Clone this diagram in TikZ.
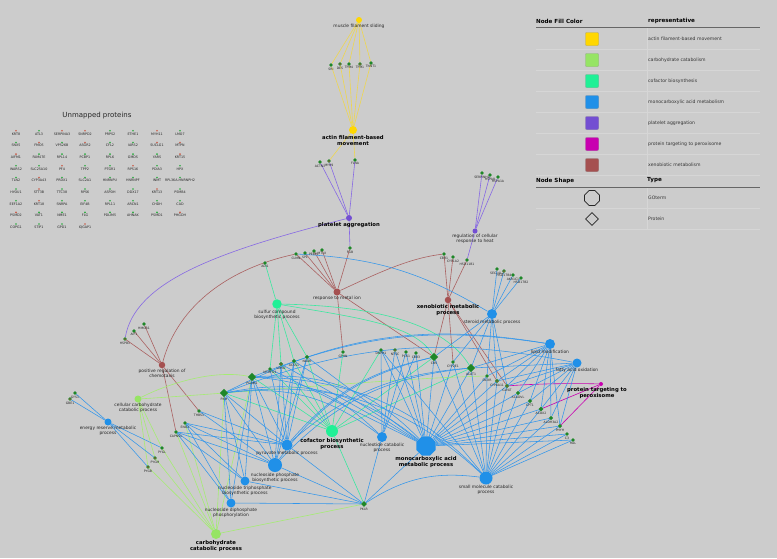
\documentclass[tikz,border=0pt]{standalone}
\usepackage{fontspec}
\setmainfont{DejaVu Sans}
\usetikzlibrary{shapes.geometric,backgrounds}
\definecolor{bg}{RGB}{204,204,204}
\definecolor{cyel}{RGB}{255,215,0}
\definecolor{eyel}{RGB}{238,214,80}
\definecolor{cgrn}{RGB}{150,228,100}
\definecolor{egrn}{RGB}{165,236,115}
\definecolor{ctea}{RGB}{32,240,150}
\definecolor{etea}{RGB}{60,232,160}
\definecolor{cblu}{RGB}{32,144,232}
\definecolor{eblu}{RGB}{50,150,235}
\definecolor{cpur}{RGB}{115,78,210}
\definecolor{epur}{RGB}{135,105,228}
\definecolor{cmag}{RGB}{200,0,176}
\definecolor{cbrn}{RGB}{165,80,80}
\definecolor{ebrn}{RGB}{170,98,98}
\definecolor{cprot}{RGB}{30,135,40}
\definecolor{cred}{RGB}{200,75,60}
\definecolor{ug}{RGB}{40,170,60}
\definecolor{ur}{RGB}{200,90,70}
\definecolor{gridl}{RGB}{214,214,214}
\tikzset{
 go/.style={circle,inner sep=0pt,draw=none},
 pr/.style={diamond,inner sep=0pt,minimum size=3.8pt,fill=cprot},
 bigpr/.style={diamond,inner sep=0pt,minimum size=8.5pt,fill=cprot},
 rc/.style={path picture={\fill[cred] (path picture bounding box.center) circle (0.75pt);}},
 lab/.style={font=\fontsize{4.4}{4.9}\selectfont,align=center,text=black!85,inner sep=0.6pt},
 blab/.style={font=\fontsize{5.3}{6.1}\selectfont\bfseries,align=center,text=black,inner sep=0.6pt},
 plab/.style={font=\fontsize{3.1}{3.4}\selectfont,text=black!85,inner sep=0.4pt},
 ulab/.style={font=\fontsize{3.3}{3.6}\selectfont,text=black!85,inner sep=0pt},
 udot/.style={circle,inner sep=0pt,minimum size=1.8pt},
 ey/.style={draw=eyel,line width=0.6pt},
 ep/.style={draw=epur,line width=0.6pt},
 eb/.style={draw=ebrn,line width=0.6pt},
 et/.style={draw=etea,line width=0.6pt},
 eg/.style={draw=egrn,line width=0.6pt},
 ebl/.style={draw=eblu,line width=0.55pt},
 em/.style={draw=cmag,line width=0.6pt},
 hdr/.style={font=\fontsize{5.6}{6.5}\selectfont\bfseries,anchor=west,inner sep=0pt},
 ltx/.style={font=\fontsize{4.6}{5.4}\selectfont,text=black!80,anchor=west,inner sep=0pt},
 sw/.style={rectangle,rounded corners=1.2pt,minimum size=13.5pt,inner sep=0pt,draw=black!35,line width=0.4pt}
}
\begin{document}
\begin{tikzpicture}[x=1pt,y=-1pt]
\useasboundingbox (0,0) rectangle (777,558);

% ---------------- GO term nodes ----------------
\node[go,fill=cyel,minimum size=6pt,label={[lab]below:muscle filament sliding}] (msl) at (359,20) {};
\node[go,fill=cyel,minimum size=8pt,label={[blab]below:actin filament-based\\movement}] (afm) at (353,130) {};
\node[go,fill=cpur,minimum size=6pt,label={[blab]below:platelet aggregation}] (pla) at (349,218) {};
\node[go,fill=cpur,minimum size=5pt,label={[lab]below:regulation of cellular\\response to heat}] (rch) at (475,231) {};
\node[go,fill=cbrn,minimum size=7pt,label={[lab]below:response to metal ion}] (rmi) at (337,292) {};
\node[go,fill=cbrn,minimum size=6.5pt,label={[blab]below:xenobiotic metabolic\\process}] (xen) at (448,300) {};
\node[go,fill=cbrn,minimum size=6.5pt,label={[lab]below:positive regulation of\\chemotaxis}] (prc) at (162,365) {};
\node[go,fill=ctea,minimum size=9.5pt,label={[lab]below:sulfur compound\\biosynthetic process}] (scb) at (277,304) {};
\node[go,fill=ctea,minimum size=12pt,label={[blab]below:cofactor biosynthetic\\process}] (cof) at (332,431) {};
\node[go,fill=cblu,minimum size=11pt,label={[lab]below:pyruvate metabolic process}] (pyr) at (287,445) {};
\node[go,fill=cblu,minimum size=14pt,label={[lab]below:nucleoside phosphate\\biosynthetic process}] (npb) at (275,465) {};
\node[go,fill=cblu,minimum size=9pt,label={[lab]below:nucleoside triphosphate\\biosynthetic process}] (ntb) at (245,481) {};
\node[go,fill=cblu,minimum size=9pt,label={[lab]below:nucleoside diphosphate\\phosphorylation}] (ndp) at (231,503) {};
\node[go,fill=cgrn,minimum size=10pt,label={[blab]below:carbohydrate\\catabolic process}] (cca) at (216,534) {};
\node[go,fill=cgrn,minimum size=7pt,label={[lab]below:cellular carbohydrate\\catabolic process}] (ccc) at (138,399) {};
\node[go,fill=cblu,minimum size=7pt,label={[lab]below:energy reserve metabolic\\process}] (erm) at (108,422) {};
\node[go,fill=cblu,minimum size=10pt,label={[lab]below:steroid metabolic process}] (ste) at (492,314) {};
\node[go,fill=cblu,minimum size=10pt,label={[lab]below:lipid modification}] (lip) at (550,344) {};
\node[go,fill=cblu,minimum size=9pt,label={[lab]below:fatty acid oxidation}] (fao) at (577,363) {};
\node[go,fill=cmag,minimum size=4pt,label={[blab,xshift=-4pt]below:protein targeting to\\peroxisome}] (ptp) at (601,384) {};
\node[regular polygon,regular polygon sides=8,inner sep=0pt,minimum size=21pt,fill=cblu,label={[blab]below:monocarboxylic acid\\metabolic process}] (mca) at (426,446) {};
\node[go,fill=cblu,minimum size=13pt,label={[lab]below:small molecule catabolic\\process}] (smc) at (486,478) {};
\node[go,fill=cblu,minimum size=10pt,label={[lab]below:nucleotide catabolic\\process}] (nca) at (382,437) {};

% ---------------- protein nodes ----------------
\node[pr,label={[plab]below:SRI}] (sri) at (331,65) {};
\node[pr,rc,label={[plab]below:DES}] (des) at (340,64) {};
\node[pr,label={[plab]below:TPM4}] (tpm4) at (349,64) {};
\node[pr,rc,label={[plab]below:TPM1}] (tpm1) at (360,64) {};
\node[pr,label={[plab]below:TNNT1}] (tnnt1) at (371,63) {};
\node[pr,label={[plab]below:ACTN1}] (actn1) at (320,162) {};
\node[pr,rc,label={[plab]below:MYH9}] (myh9) at (329,161) {};
\node[pr,label={[plab]below:FLNA}] (flna) at (355,160) {};
\node[pr,label={[plab]below:FGB}] (fgb) at (350,248) {};
\node[pr,label={[plab]below:SERPINH1}] (serpinh1) at (482,173) {};
\node[pr,label={[plab]below:HSPA8}] (hspa8) at (490,175) {};
\node[pr,label={[plab]below:HSPA1A}] (hspa1a) at (498,177) {};
\node[pr,label={[plab]below:CBR1}] (cbr1) at (444,254) {};
\node[pr,label={[plab]below:CYP1A2}] (cyp) at (453,257) {};
\node[pr,label={[plab]below:HSD11B1}] (hsd11b1) at (467,260) {};
\node[pr,label={[plab]below:SEC14L2}] (sec14l2) at (497,269) {};
\node[pr,rc,label={[plab]below:HSD17B4}] (hsd17b4) at (504,271) {};
\node[pr,label={[plab]below:AKR1C1}] (akr1c1) at (513,275) {};
\node[pr,label={[plab]below:HSD17B2}] (hsd17b2) at (521,278) {};
\node[pr,label={[plab]below:CLMN}] (clmn) at (296,254) {};
\node[pr,label={[plab]below:SP1}] (sp1) at (305,253) {};
\node[pr,label={[plab]below:PEBP1}] (pebp1) at (314,251) {};
\node[pr,label={[plab]below:MT1X}] (mt1x) at (322,250) {};
\node[pr,label={[plab]below:ADI1}] (adi1) at (265,263) {};
\node[pr,rc,label={[plab]below:HSPB1}] (hspb1) at (125,339) {};
\node[pr,label={[plab]below:AIF1}] (aif1) at (134,331) {};
\node[pr,label={[plab]below:HMGB1}] (hmgb1) at (144,324) {};
\node[pr,label={[plab]below:MTHFD1}] (mthfd1) at (270,369) {};
\node[pr,rc,minimum size=4.5pt,label={[plab]below:LDHD}] (ldhd) at (281,364) {};
\node[pr,minimum size=4.5pt,label={[plab]below:ACSS1}] (acss1) at (294,361) {};
\node[pr,minimum size=4.5pt,label={[plab]below:NADK}] (nadk) at (307,357) {};
\node[bigpr,label={[plab]below:PGAM1}] (pgam1) at (252,377) {};
\node[bigpr,label={[plab]below:PKM}] (pkm) at (224,393) {};
\node[pr,label={[plab]below:GPHN}] (gphn) at (343,352) {};
\node[pr,label={[plab]below:DNPH1}] (dnph1) at (381,350) {};
\node[pr,rc,label={[plab]below:NT5C}] (nt5c) at (395,350) {};
\node[pr,label={[plab]below:PCK1}] (pck1) at (406,352) {};
\node[pr,label={[plab]below:CBR3}] (cbr3) at (416,353) {};
\node[bigpr,label={[plab]below:CBS}] (cbs) at (434,357) {};
\node[pr,label={[plab]below:CYP2E1}] (cyp2e1) at (453,362) {};
\node[bigpr,label={[plab]below:ACAT1}] (acat1) at (471,368) {};
\node[pr,label={[plab]below:DCXR}] (dcxr) at (487,376) {};
\node[pr,rc,minimum size=4.5pt,label={[plab]below:CYP4A11}] (cyp4a11) at (497,381) {};
\node[pr,rc,minimum size=4.5pt,label={[plab]below:GLYAT}] (glyat) at (507,386) {};
\node[pr,minimum size=4.5pt,label={[plab]below:ACADVL}] (acadvl) at (518,393) {};
\node[pr,minimum size=4.5pt,label={[plab]below:CPT1}] (cpt1) at (530,401) {};
\node[pr,minimum size=5pt,label={[plab]below:ACOX2}] (acox2) at (541,409) {};
\node[pr,minimum size=4.5pt,label={[plab]below:ALDH3A2}] (aldh3a2) at (551,418) {};
\node[pr,minimum size=4.5pt,label={[plab]below:PHYH}] (phyh) at (560,426) {};
\node[pr,label={[plab]below:C3}] (c3) at (567,434) {};
\node[pr,label={[plab]below:HAL}] (hal) at (573,440) {};
\node[pr,label={[plab]below:THBS1}] (thbs1) at (199,411) {};
\node[pr,label={[plab]below:ENO1}] (eno1) at (185,423) {};
\node[pr,label={[plab]below:CAPNS1}] (capn1) at (176,432) {};
\node[pr,label={[plab]below:PYGL}] (pygl) at (162,448) {};
\node[pr,rc,label={[plab]below:PYGM}] (pygm) at (155,458) {};
\node[pr,rc,label={[plab]below:PYGB}] (pygb) at (148,467) {};
\node[pr,label={[plab]below:GYS1}] (gys1) at (75,393) {};
\node[pr,rc,label={[plab]below:GBE1}] (gbe1) at (70,399) {};
\node[pr,minimum size=6pt,label={[plab]below:PKLR}] (pklr) at (364,504) {};

% ---------------- edges ----------------
\begin{pgfonlayer}{background}
\fill[bg] (0,0) rectangle (777,558);
% legend table lines
\foreach \yy in {49,70,91,112,133,154,175,208,229} \draw[gridl,line width=0.5pt] (536,\yy) -- (760,\yy);
\draw[gridl,line width=0.5pt] (647,28) -- (647,175) (647,188) -- (647,229);
% yellow
\foreach \a in {sri,des,tpm4,tpm1,tnnt1} {\draw[ey] (msl) -- (\a); \draw[ey] (\a) -- (afm);}
\draw[ey] (afm) -- (myh9); \draw[ey] (afm) -- (flna);
% purple
\foreach \a in {actn1,myh9,flna,fgb} \draw[ep] (pla) -- (\a);
\draw[ep] (pla) .. controls (215,252) and (135,282) .. (hspb1);
\foreach \a in {serpinh1,hspa8,hspa1a,hsd11b1} \draw[ep] (rch) -- (\a);
% brown
\foreach \a in {clmn,sp1,pebp1,mt1x,fgb,gphn,cbs} \draw[eb] (rmi) -- (\a);
\draw[eb] (rmi) .. controls (380,272) and (410,258) .. (cbr1);
\foreach \a in {hspb1,aif1,hmgb1,thbs1,capn1} \draw[eb] (prc) -- (\a);
\draw[eb] (prc) .. controls (178,305) and (230,268) .. (clmn);
\foreach \a in {cbr1,cyp,hsd11b1,cbs,cyp2e1,cyp4a11,glyat} \draw[eb] (xen) -- (\a);
% teal
\foreach \a in {adi1,mthfd1,ldhd,acss1,nadk} \draw[et] (scb) -- (\a);
\draw[et] (scb) .. controls (360,318) and (415,325) .. (cbs);
\draw[et] (scb) .. controls (380,306) and (445,325) .. (acat1);
\foreach \a in {pgam1,pkm,mthfd1,ldhd,acss1,nadk,gphn,cbs,acat1,pklr,dnph1} \draw[et] (cof) -- (\a);
% light green
\foreach \a in {pkm,pgam1,eno1,capn1,pygl,pygm,pygb,pklr} \draw[eg] (cca) -- (\a);
\foreach \a in {pygl,pygm,pygb} \draw[eg] (ccc) -- (\a);
\draw[eg] (ccc) .. controls (165,385) and (212,369) .. (pgam1);
\draw[eg] (ccc) .. controls (250,392) and (400,378) .. (dcxr);
% magenta
\draw[em] (ptp) .. controls (570,383) and (530,384) .. (glyat);
\foreach \a in {acox2,phyh} \draw[em] (ptp) -- (\a);
% blue straight
\foreach \a/\b in {erm/gys1,erm/gbe1,erm/pygl,erm/pygm,erm/pygb,
 ste/sec14l2,ste/hsd17b4,ste/akr1c1,ste/hsd17b2,ste/cbs,ste/acat1,ste/cyp2e1,ste/cyp4a11,ste/dcxr,ste/glyat,
 lip/acat1,lip/dcxr,lip/acadvl,lip/cpt1,lip/acox2,lip/aldh3a2,lip/phyh,lip/cyp4a11,lip/glyat,
 fao/acadvl,fao/cpt1,fao/acox2,fao/aldh3a2,fao/phyh,fao/acat1,fao/cyp4a11,fao/glyat,
 mca/cbs,mca/acat1,mca/cyp2e1,mca/dcxr,mca/cyp4a11,mca/glyat,mca/acadvl,mca/cpt1,mca/acox2,mca/aldh3a2,mca/phyh,mca/c3,mca/hal,mca/dnph1,mca/nt5c,mca/pck1,mca/cbr3,mca/ldhd,mca/mthfd1,mca/nadk,mca/acss1,mca/pklr,
 smc/cbs,smc/acat1,smc/acadvl,smc/cpt1,smc/acox2,smc/aldh3a2,smc/phyh,smc/c3,smc/hal,smc/dcxr,smc/cyp4a11,smc/glyat,smc/cyp2e1,smc/dnph1,
 nca/dnph1,nca/nt5c,nca/pck1,nca/cbr3,nca/pklr,
 pyr/pgam1,pyr/pkm,pyr/ldhd,pyr/mthfd1,pyr/acss1,pyr/eno1,pyr/capn1,pyr/thbs1,pyr/pklr,pyr/nadk,
 npb/pgam1,npb/pkm,npb/eno1,npb/capn1,npb/thbs1,npb/nadk,npb/acss1,npb/pklr,npb/ldhd,
 ntb/pgam1,ntb/pkm,ntb/eno1,ntb/capn1,ntb/pklr,
 ndp/pgam1,ndp/pkm,ndp/pklr,ndp/eno1,ndp/capn1}
 \draw[ebl] (\a) -- (\b);
% blue bent
\foreach \a/\b/\d in {pgam1/mca/25,pkm/mca/25,pgam1/smc/22,pkm/smc/25,pgam1/lip/15,pkm/lip/18,
 pgam1/nca/20,pkm/nca/22,pklr/smc/20,clmn/ste/14,pyr/cbs/18,npb/cbs/20,npb/acat1/20,pyr/acat1/18,pkm/fao/16}
 \draw[ebl] (\a) to[bend left=\d] (\b);
\end{pgfonlayer}

% ---------------- unmapped proteins ----------------
\node[font=\fontsize{7}{8}\selectfont,text=black!85,inner sep=0pt] (utitle) at (97,116) {Unmapped proteins};
\foreach \nm/\cl [count=\i from 0] in {KRT8/r,ATL3/g,SERPINA3/r,SNRPD2/r,PRPS2/g,ETHE1/g,MYH11/r,LMO7/g,
 SNX5/g,FMO5/r,VPS26B/g,ASGR2/r,CFL2/g,IARS2/g,SUCLG1/r,MTPN/r,
 AIFM1/r,FAM47E/g,RPL14/g,PCBP1/g,RPL6/g,GMDS/g,YARS/g,KRT15/r,
 WARS2/g,SLC25A10/g,PF4/r,TPP2/g,PTGR1/g,RPS16/r,PDIA3/g,HPX/g,
 TLN2/g,CYP3A43/r,PRDX1/g,SLC2A1/g,HNRNPU/g,HNRNPF/g,INMT/g,RPL36A-HNRNPH2/g,
 HYOU1/g,STT3B/r,TTC38/g,RPS6/g,ASPDH/g,DDX17/g,KRT13/r,PSMB4/g,
 EEF1A2/g,KRT18/r,SNRPA/g,EIF4B/g,RPL11/g,ARCN1/g,CHDH/g,CAD/g,
 PSMD2/r,VAT1/g,NME1/g,FLG/g,PDLIM5/g,AHNAK/g,PSMD1/g,PHGDH/r,
 COPG1/g,STIP1/g,GPD1/g,IQGAP1/r}{
 \pgfmathtruncatemacro\cc{mod(\i,8)}
 \pgfmathtruncatemacro\rr{div(\i,8)}
 \pgfmathsetmacro\ux{{16,39,62,85,110,133,157,180}[\cc]}
 \pgfmathsetmacro\uy{134+11.65*\rr}
 \node[udot,fill=u\cl] (ud\i) at (\ux,\uy-3.2) {};
 \node[ulab] (ul\i) at (\ux,\uy) {\nm};
}

% ---------------- legend ----------------
\node[hdr] (h1) at (536,21) {Node Fill Color};
\node[hdr] (h2) at (648,21) {representative};
\draw[black!60,line width=0.6pt] (536,27.5) -- (760,27.5);
\foreach \c/\t [count=\k from 0] in {cyel/actin filament-based movement,cgrn/carbohydrate catabolism,ctea/cofactor biosynthesis,cblu/monocarboxylic acid metabolism,cpur/platelet aggregation,cmag/protein targeting to peroxisome,cbrn/xenobiotic metabolism}{
 \node[sw,fill=\c] (sw\k) at (592,{39+21*\k}) {};
 \node[ltx] (lt\k) at (648,{39+21*\k}) {\t};
}
\node[hdr] (h3) at (536,180.5) {Node Shape};
\node[hdr] (h4) at (647,180.5) {Type};
\draw[black!60,line width=0.6pt] (536,187.5) -- (760,187.5);
\node[regular polygon,regular polygon sides=8,draw=black!85,line width=0.75pt,minimum size=16pt,inner sep=0pt] (oct) at (592,198) {};
\node[ltx] (lgo) at (648,198) {GOterm};
\node[diamond,draw=black!85,line width=0.75pt,minimum size=13pt,inner sep=0pt] (dia) at (592,219) {};
\node[ltx] (lpr) at (648,219) {Protein};
\end{tikzpicture}
\end{document}
